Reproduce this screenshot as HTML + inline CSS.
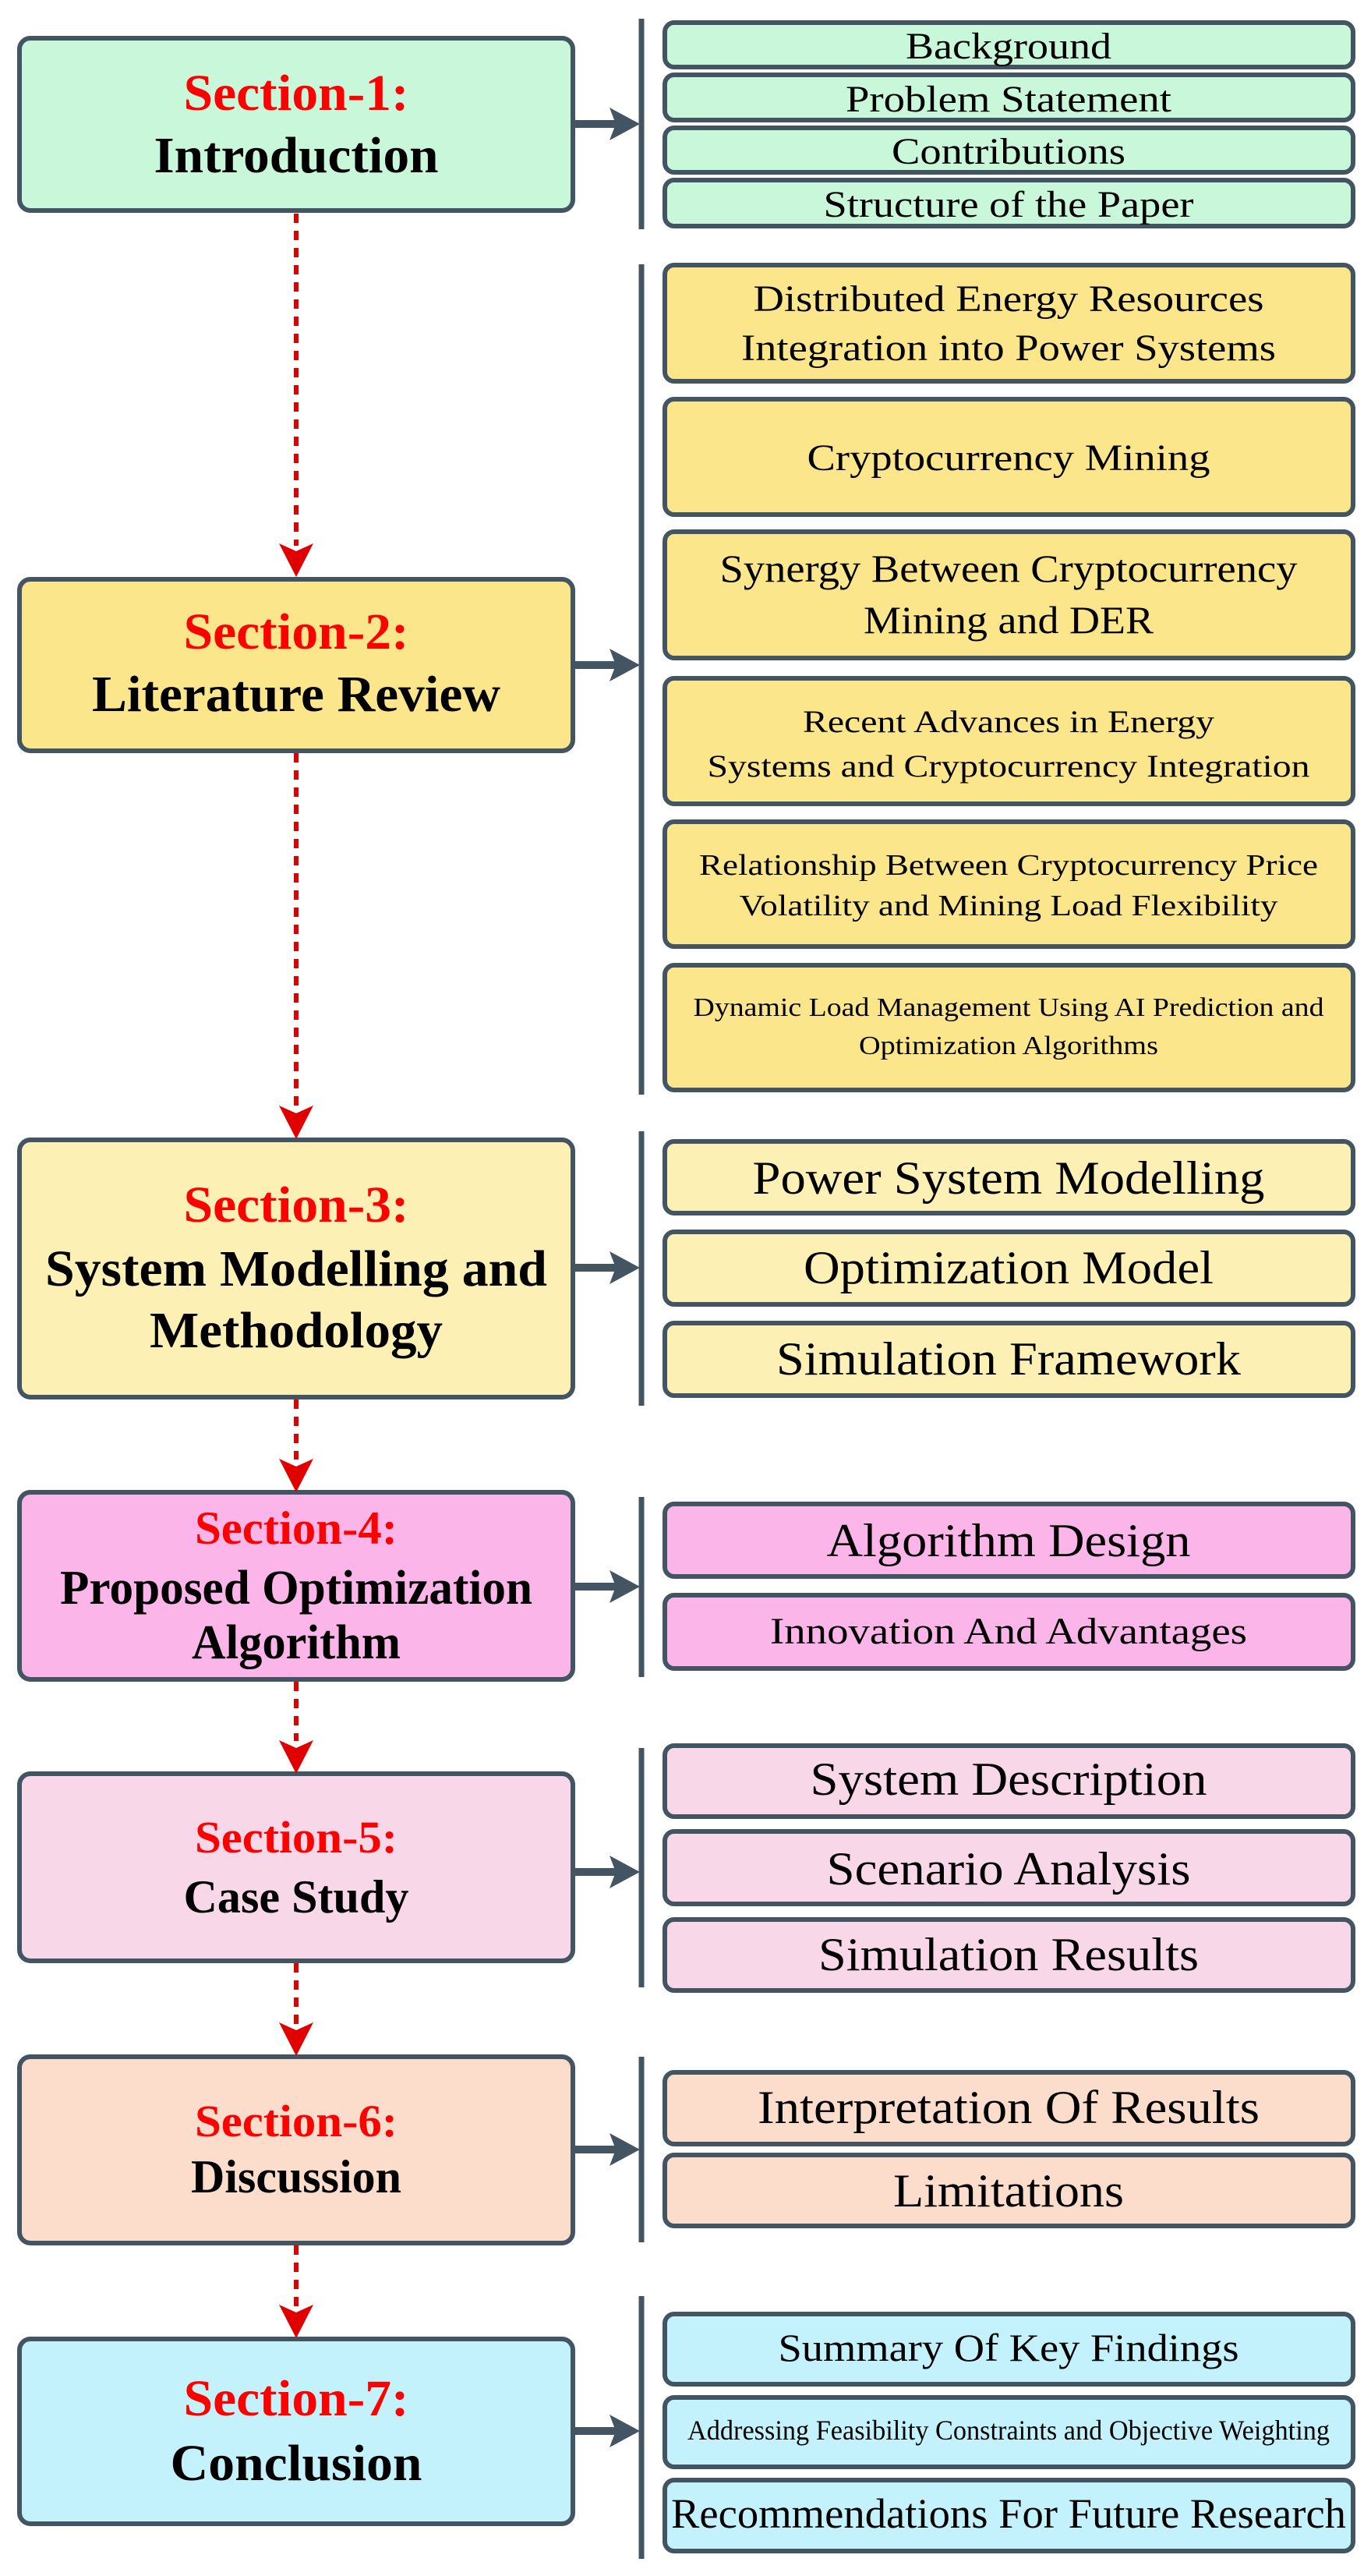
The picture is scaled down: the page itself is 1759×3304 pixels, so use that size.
<!DOCTYPE html>
<html><head><meta charset="utf-8"><style>
html,body{margin:0;padding:0;background:#fff;}
svg{display:block;}
text{font-family:"Liberation Serif",serif;}
.t{font-weight:bold;fill:#000;}
.r{font-weight:bold;fill:#ff0000;}
.s{fill:#000;}
</style></head><body>
<svg width="1759" height="3304" viewBox="0 0 1759 3304" xmlns="http://www.w3.org/2000/svg">
<defs>
<marker id="ra" viewBox="0 0 44 44" markerWidth="44" markerHeight="44" refX="22" refY="44" markerUnits="userSpaceOnUse" orient="0">
<path d="M0,0 L22,10 L44,0 L22,44 Z" fill="#e00000"/></marker>
</defs>
<g stroke="#435462" stroke-width="6">
<rect x="25" y="49" width="710" height="221" rx="14" fill="#c9f7da"/>
<rect x="25" y="743" width="710" height="220" rx="14" fill="#fce68c"/>
<rect x="25" y="1462" width="710" height="330" rx="14" fill="#fcf0b5"/>
<rect x="25" y="1914" width="710" height="240" rx="14" fill="#fbb5e9"/>
<rect x="25" y="2275" width="710" height="240" rx="14" fill="#f8d8e8"/>
<rect x="25" y="2638" width="710" height="239" rx="14" fill="#fcdcca"/>
<rect x="25" y="3000" width="710" height="237" rx="14" fill="#c4f2fc"/>
</g>
<g stroke="#435462" stroke-width="6">
<g fill="#c9f7da">
<rect x="853" y="29" width="883" height="57" rx="12"/>
<rect x="853" y="96" width="883" height="58" rx="12"/>
<rect x="853" y="164" width="883" height="57" rx="12"/>
<rect x="853" y="231" width="883" height="59" rx="12"/>
</g>
<g fill="#fce68c">
<rect x="853" y="340" width="883" height="149" rx="12"/>
<rect x="853" y="512" width="883" height="148" rx="12"/>
<rect x="853" y="682" width="883" height="162" rx="12"/>
<rect x="853" y="870" width="883" height="161" rx="12"/>
<rect x="853" y="1054" width="883" height="160" rx="12"/>
<rect x="853" y="1238" width="883" height="160" rx="12"/>
</g>
<g fill="#fcf0b5">
<rect x="853" y="1464" width="883" height="92" rx="12"/>
<rect x="853" y="1580" width="883" height="93" rx="12"/>
<rect x="853" y="1697" width="883" height="93" rx="12"/>
</g>
<g fill="#fbb5e9">
<rect x="853" y="1929" width="883" height="93" rx="12"/>
<rect x="853" y="2046" width="883" height="94" rx="12"/>
</g>
<g fill="#f8d8e8">
<rect x="853" y="2239" width="883" height="91" rx="12"/>
<rect x="853" y="2349" width="883" height="93" rx="12"/>
<rect x="853" y="2462" width="883" height="91" rx="12"/>
</g>
<g fill="#fcdcca">
<rect x="853" y="2658" width="883" height="92" rx="12"/>
<rect x="853" y="2764" width="883" height="91" rx="12"/>
</g>
<g fill="#c4f2fc">
<rect x="853" y="2968" width="883" height="90" rx="12"/>
<rect x="853" y="3075" width="883" height="89" rx="12"/>
<rect x="853" y="3181" width="883" height="91" rx="12"/>
</g>
</g>
<!-- vertical bars -->
<g stroke="#435462" stroke-width="7">
<line x1="823" y1="24" x2="823" y2="294"/>
<line x1="823" y1="339" x2="823" y2="1404"/>
<line x1="823" y1="1451" x2="823" y2="1803"/>
<line x1="823" y1="1920" x2="823" y2="2151"/>
<line x1="823" y1="2242" x2="823" y2="2549"/>
<line x1="823" y1="2638" x2="823" y2="2876"/>
<line x1="823" y1="2945" x2="823" y2="3282"/>
</g>
<!-- grey arrows -->
<g fill="#435462" stroke="#435462" stroke-width="10">
<line x1="738" y1="159" x2="790" y2="159"/><line x1="738" y1="853" x2="790" y2="853"/>
<line x1="738" y1="1626" x2="790" y2="1626"/><line x1="738" y1="2035" x2="790" y2="2035"/>
<line x1="738" y1="2401" x2="790" y2="2401"/><line x1="738" y1="2757" x2="790" y2="2757"/>
<line x1="738" y1="3118" x2="790" y2="3118"/>
</g>
<g fill="#435462">
<path d="M782,138 L821,159 L782,180 L790,159 Z"/>
<path d="M782,832 L821,853 L782,874 L790,853 Z"/>
<path d="M782,1605 L821,1626 L782,1647 L790,1626 Z"/>
<path d="M782,2014 L821,2035 L782,2056 L790,2035 Z"/>
<path d="M782,2380 L821,2401 L782,2422 L790,2401 Z"/>
<path d="M782,2736 L821,2757 L782,2778 L790,2757 Z"/>
<path d="M782,3097 L821,3118 L782,3139 L790,3118 Z"/>
</g>
<!-- red dashed arrows -->
<g stroke="#e00000" stroke-width="6" stroke-dasharray="12,10" fill="none">
<line x1="380" y1="274" x2="380" y2="700"/>
<line x1="380" y1="966" x2="380" y2="1420"/>
<line x1="380" y1="1795" x2="380" y2="1872"/>
<line x1="380" y1="2157" x2="380" y2="2233"/>
<line x1="380" y1="2518" x2="380" y2="2596"/>
<line x1="380" y1="2880" x2="380" y2="2958"/>
</g>
<g fill="#e00000">
<path d="M358,697 L380,707 L402,697 L380,740 Z"/>
<path d="M358,1418 L380,1428 L402,1418 L380,1461 Z"/>
<path d="M358,1871 L380,1881 L402,1871 L380,1914 Z"/>
<path d="M358,2232 L380,2242 L402,2232 L380,2275 Z"/>
<path d="M358,2594 L380,2604 L402,2594 L380,2637 Z"/>
<path d="M358,2956 L380,2966 L402,2956 L380,2999 Z"/>
</g>
<!-- main titles -->
<g text-anchor="middle">
<text class="r" x="380" y="141" font-size="66" textLength="289" lengthAdjust="spacingAndGlyphs">Section-1:</text>
<text class="t" x="380" y="221" font-size="66" textLength="365" lengthAdjust="spacingAndGlyphs">Introduction</text>
<text class="r" x="380" y="832" font-size="66" textLength="289" lengthAdjust="spacingAndGlyphs">Section-2:</text>
<text class="t" x="380" y="912" font-size="66" textLength="524" lengthAdjust="spacingAndGlyphs">Literature Review</text>
<text class="r" x="380" y="1567" font-size="66" textLength="289" lengthAdjust="spacingAndGlyphs">Section-3:</text>
<text class="t" x="380" y="1649" font-size="66" textLength="644" lengthAdjust="spacingAndGlyphs">System Modelling and</text>
<text class="t" x="380" y="1728" font-size="66" textLength="376" lengthAdjust="spacingAndGlyphs">Methodology</text>
<text class="r" x="380" y="1980" font-size="60" textLength="260" lengthAdjust="spacingAndGlyphs">Section-4:</text>
<text class="t" x="380" y="2057" font-size="62" textLength="606" lengthAdjust="spacingAndGlyphs">Proposed Optimization</text>
<text class="t" x="380" y="2127" font-size="62" textLength="268" lengthAdjust="spacingAndGlyphs">Algorithm</text>
<text class="r" x="380" y="2376" font-size="58" textLength="260" lengthAdjust="spacingAndGlyphs">Section-5:</text>
<text class="t" x="380" y="2453" font-size="60" textLength="289" lengthAdjust="spacingAndGlyphs">Case Study</text>
<text class="r" x="380" y="2740" font-size="58" textLength="260" lengthAdjust="spacingAndGlyphs">Section-6:</text>
<text class="t" x="380" y="2812" font-size="60" textLength="270" lengthAdjust="spacingAndGlyphs">Discussion</text>
<text class="r" x="380" y="3098" font-size="66" textLength="289" lengthAdjust="spacingAndGlyphs">Section-7:</text>
<text class="t" x="380" y="3181" font-size="66" textLength="323" lengthAdjust="spacingAndGlyphs">Conclusion</text>
</g>
<!-- sub texts -->
<g text-anchor="middle" class="s">
<text x="1294" y="75" font-size="48" textLength="264" lengthAdjust="spacingAndGlyphs">Background</text>
<text x="1294" y="143" font-size="48" textLength="418" lengthAdjust="spacingAndGlyphs">Problem Statement</text>
<text x="1294" y="210" font-size="48" textLength="300" lengthAdjust="spacingAndGlyphs">Contributions</text>
<text x="1294" y="278" font-size="48" textLength="475" lengthAdjust="spacingAndGlyphs">Structure of the Paper</text>
<text x="1294" y="399" font-size="48" textLength="655" lengthAdjust="spacingAndGlyphs">Distributed Energy Resources</text>
<text x="1294" y="462" font-size="48" textLength="686" lengthAdjust="spacingAndGlyphs">Integration into Power Systems</text>
<text x="1294" y="603" font-size="48" textLength="517" lengthAdjust="spacingAndGlyphs">Cryptocurrency Mining</text>
<text x="1294" y="746" font-size="50" textLength="741" lengthAdjust="spacingAndGlyphs">Synergy Between Cryptocurrency</text>
<text x="1294" y="812" font-size="50" textLength="372" lengthAdjust="spacingAndGlyphs">Mining and DER</text>
<text x="1294" y="939" font-size="40" textLength="528" lengthAdjust="spacingAndGlyphs">Recent Advances in Energy</text>
<text x="1294" y="996" font-size="40" textLength="773" lengthAdjust="spacingAndGlyphs">Systems and Cryptocurrency Integration</text>
<text x="1294" y="1122" font-size="38" textLength="794" lengthAdjust="spacingAndGlyphs">Relationship Between Cryptocurrency Price</text>
<text x="1294" y="1174" font-size="38" textLength="691" lengthAdjust="spacingAndGlyphs">Volatility and Mining Load Flexibility</text>
<text x="1294" y="1303" font-size="34" textLength="809" lengthAdjust="spacingAndGlyphs">Dynamic Load Management Using AI Prediction and</text>
<text x="1294" y="1352" font-size="34" textLength="384" lengthAdjust="spacingAndGlyphs">Optimization Algorithms</text>
<text x="1294" y="1531" font-size="60" textLength="657" lengthAdjust="spacingAndGlyphs">Power System Modelling</text>
<text x="1294" y="1646" font-size="60" textLength="526" lengthAdjust="spacingAndGlyphs">Optimization Model</text>
<text x="1294" y="1763" font-size="60" textLength="596" lengthAdjust="spacingAndGlyphs">Simulation Framework</text>
<text x="1294" y="1996" font-size="60" textLength="467" lengthAdjust="spacingAndGlyphs">Algorithm Design</text>
<text x="1294" y="2108" font-size="48" textLength="612" lengthAdjust="spacingAndGlyphs">Innovation And Advantages</text>
<text x="1294" y="2302" font-size="60" textLength="509" lengthAdjust="spacingAndGlyphs">System Description</text>
<text x="1294" y="2417" font-size="60" textLength="467" lengthAdjust="spacingAndGlyphs">Scenario Analysis</text>
<text x="1294" y="2527" font-size="60" textLength="488" lengthAdjust="spacingAndGlyphs">Simulation Results</text>
<text x="1294" y="2723" font-size="60" textLength="644" lengthAdjust="spacingAndGlyphs">Interpretation Of Results</text>
<text x="1294" y="2830" font-size="60" textLength="296" lengthAdjust="spacingAndGlyphs">Limitations</text>
<text x="1294" y="3028" font-size="50" textLength="591" lengthAdjust="spacingAndGlyphs">Summary Of Key Findings</text>
<text x="1294" y="3129" font-size="36" textLength="824" lengthAdjust="spacingAndGlyphs">Addressing Feasibility Constraints and Objective Weighting</text>
<text x="1294" y="3242" font-size="54" textLength="866" lengthAdjust="spacingAndGlyphs">Recommendations For Future Research</text>
</g>
</svg>
</body></html>
